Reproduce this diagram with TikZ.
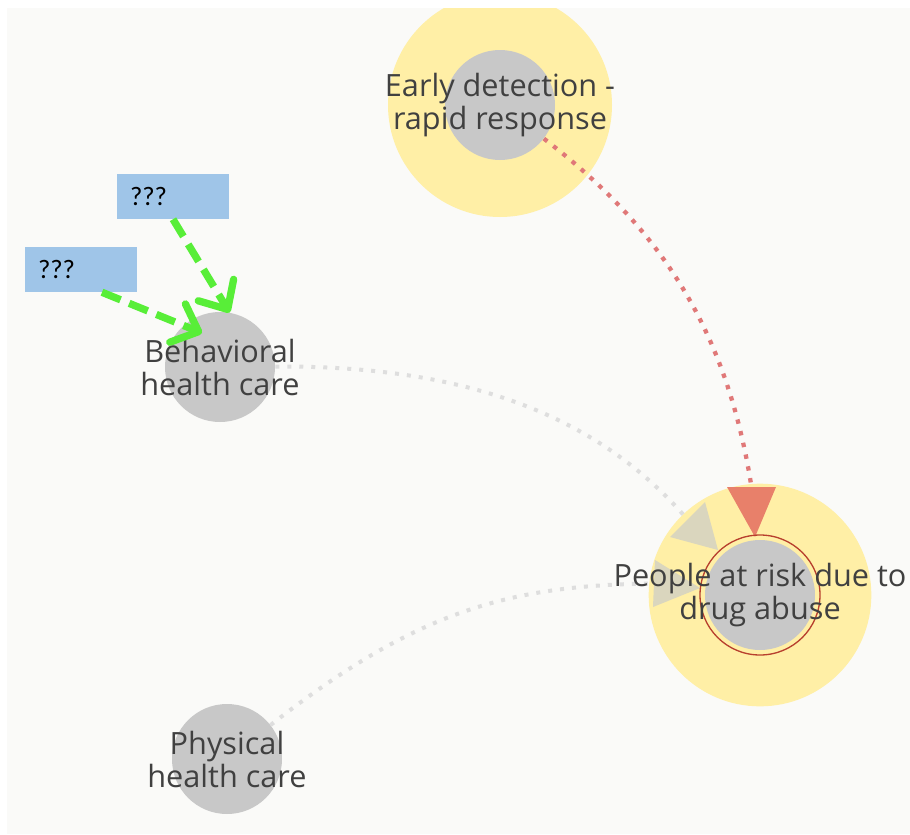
\documentclass[tikz,border=0pt]{standalone}
\usepackage{fontspec}
\setmainfont{Open Sans}
\newfontfamily\boxfont{Carlito}
\usetikzlibrary{arrows.meta,calc}

\definecolor{canvas}{HTML}{FAFAF8}
\definecolor{halo}{HTML}{FFEFA6}
\definecolor{nodegray}{HTML}{C8C8C8}
\definecolor{ink}{HTML}{404040}
\definecolor{ringred}{HTML}{B8402E}
\definecolor{alarm}{HTML}{E8806A}
\definecolor{alarmdots}{HTML}{E07878}
\definecolor{softdots}{HTML}{DEDEDE}
\definecolor{softtip}{HTML}{DAD6BE}
\definecolor{qblue}{HTML}{9FC5E8}
\definecolor{flowgreen}{HTML}{58EE38}

\pgfdeclarelayer{back}
\pgfdeclarelayer{halos}
\pgfdeclarelayer{links}
\pgfsetlayers{back,halos,links,main}

\tikzset{
  concept/.style={circle, fill=nodegray, minimum size=82.5pt, inner sep=0pt},
  caption/.style={font=\fontsize{23}{24.75}\selectfont, text=ink, align=center, inner sep=0pt},
  glow/.style={fill=halo},
  alarmlink/.style={draw=alarmdots, line width=3.2pt, dash pattern=on 3.3pt off 5.7pt},
  softlink/.style={draw=softdots, line width=3pt, dash pattern=on 3pt off 6pt},
  qbox/.style={rectangle, fill=qblue, minimum width=84pt, minimum height=33.75pt,
    text width=64.5pt, inner xsep=9.75pt, align=left, text=black,
    font=\boxfont\fontsize{20}{22}\selectfont},
  flow/.style={draw=flowgreen, line width=5.5pt, dash pattern=on 15pt off 7pt,
    -{Straight Barb[round,length=17pt,width=31pt]}}
}

\begin{document}
\begin{tikzpicture}[x=0.75pt, y=-0.75pt]
\useasboundingbox (0,0) rectangle (910,835);

% concepts
\node[concept, label={[caption]center:Early detection -\\rapid response}] (early) at (500,105) {};
\node[concept, label={[caption]center:Behavioral\\health care}] (beh) at (220,367) {};
\node[concept, label={[caption]center:Physical\\health care}] (phys) at (227,759) {};
\node[concept, label={[caption]center:People at risk due to\\drug abuse}] (risk) at (760,595) {};

% unknown drivers
\node[qbox] (q1) at (173,196.5) {???};
\node[qbox] (q2) at (81,269.5) {???};

% arrow-head bases on the target's halo
\coordinate (redend) at ($(risk)+(-8.5,-108)$);
\coordinate (behend) at ($(risk)+(-72.5,-75.5)$);
\coordinate (physend) at ($(risk)+(-106,-11.5)$);

\begin{pgfonlayer}{back}
  \fill[white] (0,0) rectangle (910,835);
  \fill[canvas] (7,8) rectangle (910,834);
\end{pgfonlayer}

\begin{pgfonlayer}{halos}
  \clip (7,8) rectangle (910,834);
  \fill[glow] (early) circle (84pt);
  \fill[glow] (risk) circle (83.5pt);
\end{pgfonlayer}

\begin{pgfonlayer}{links}
  \draw[alarmlink] (early) .. controls (663,230) and (727,332) .. (redend);
  \draw[softlink] (beh) .. controls (477,365) and (604,422) .. (behend);
  \draw[softlink] (phys) .. controls (413,614) and (504,585) .. (physend);
  \fill[alarm] ($(risk)+(-5,-58)$) -- ($(risk)+(-33,-108)$) -- ($(risk)+(16,-108)$) -- cycle;
  \fill[softtip] ($(risk)+(-42,-45)$) -- ($(risk)+(-90,-58)$) -- ($(risk)+(-55,-93)$) -- cycle;
  \fill[softtip] ($(risk)+(-60,-7)$) -- ($(risk)+(-105,-35)$) -- ($(risk)+(-107,12)$) -- cycle;
  \draw[ringred, line width=1pt] (risk) circle (45pt);
\end{pgfonlayer}

% influences on behavioral health care
\draw[flow] (q1.south) -- (beh.80);
\draw[flow] ($(q2.south)+(21,0)$) -- ($(beh.center)+(-18,-34)$);

\end{tikzpicture}
\end{document}
